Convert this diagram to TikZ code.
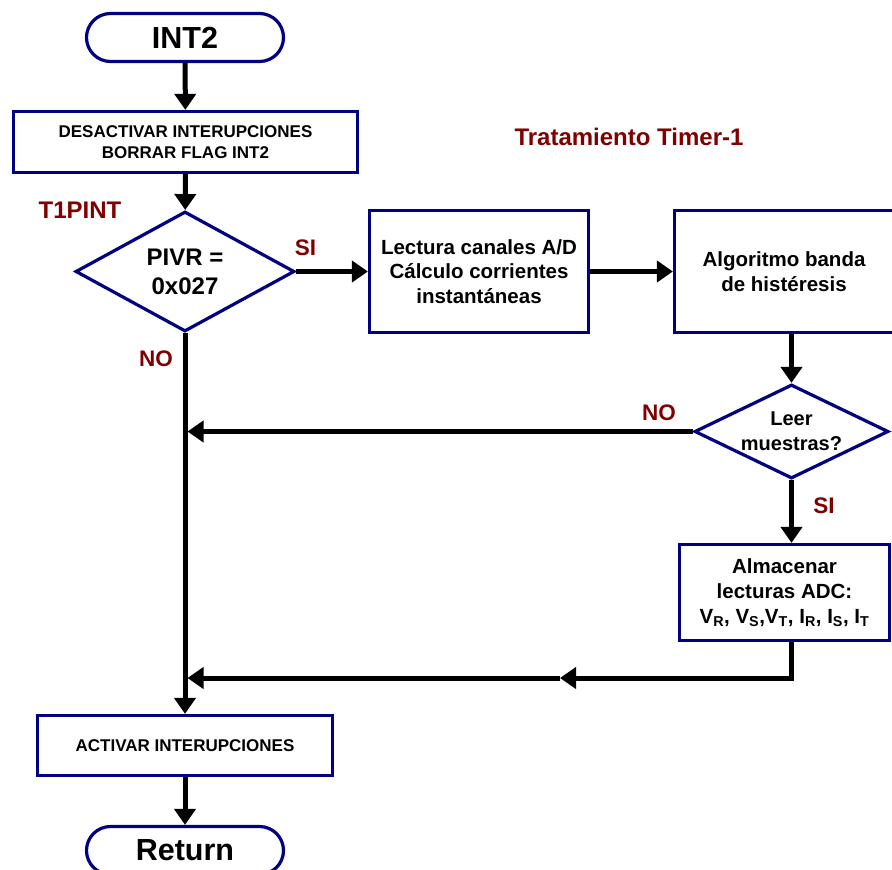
\documentclass[tikz,border=0pt]{standalone}
\usepackage{fontspec}
\setmainfont{Liberation Sans}
\usetikzlibrary{arrows.meta,shapes.geometric}
\definecolor{azul}{RGB}{0,0,128}
\definecolor{granate}{RGB}{128,0,0}

\begin{document}
\begin{tikzpicture}[x=1pt,y=-1pt,
    bloque/.style={draw=azul,line width=3.2pt,align=center,inner sep=0pt,
      font=\fontsize{20.5}{24.5}\selectfont\bfseries},
    chico/.style={font=\fontsize{17}{21}\selectfont\bfseries},
    terminal/.style={bloque,rounded corners=24pt,minimum width=197pt,minimum height=48pt,
      font=\fontsize{30.5}{36}\selectfont\bfseries},
    decision/.style={bloque,diamond,aspect=1.8},
    etiqueta/.style={text=granate,anchor=base,inner sep=0pt,
      font=\fontsize{22.5}{26}\selectfont\bfseries},
    flujo/.style={line width=5pt,-{Triangle[length=16pt,width=21pt]}}]
  \useasboundingbox (0,0) rectangle (892,870);

  % bloques
  \node[terminal] (int2) at (185,37.5) {INT2};
  \node[bloque,chico,minimum width=344pt,minimum height=61pt] (desact) at (185.5,142)
    {DESACTIVAR INTERUPCIONES\\BORRAR FLAG INT2};
  \node[decision,minimum width=219pt,minimum height=120pt,
    font=\fontsize{24}{29}\selectfont\bfseries] (pivr) at (185,271.5) {PIVR =\\0x027};
  \node[bloque,minimum width=219pt,minimum height=122pt] (lectura) at (479,271.5)
    {Lectura canales A/D\\Cálculo corrientes\\instantáneas};
  \node[bloque,minimum width=219pt,minimum height=122pt] (histeresis) at (784,271.5)
    {Algoritmo banda\\de histéresis};
  \node[decision,aspect=2,minimum width=194pt,minimum height=94pt,
    font=\fontsize{20}{25}\selectfont\bfseries] (leer) at (791.5,431.5) {Leer\\muestras?};
  \node[bloque,minimum width=210pt,minimum height=96pt,
    font=\fontsize{20.5}{25}\selectfont\bfseries] (almacenar) at (784.5,592.5)
    {Almacenar\\lecturas ADC:\\V\textsubscript{R}, V\textsubscript{S},V\textsubscript{T},
     I\textsubscript{R}, I\textsubscript{S}, I\textsubscript{T}};
  \node[bloque,chico,minimum width=295pt,minimum height=60pt] (activar) at (185,745.5)
    {ACTIVAR INTERUPCIONES};
  \node[terminal] (ret) at (185,850.5) {Return};

  % etiquetas
  \node[etiqueta,font=\fontsize{24}{28}\selectfont\bfseries] (titulo) at (629,145) {Tratamiento Timer-1};
  \node[etiqueta,font=\fontsize{24}{28}\selectfont\bfseries] (t1pint) at (80,218) {T1PINT};
  \node[etiqueta] (si1) at (305.5,255) {SI};
  \node[etiqueta] (no1) at (156,366) {NO};
  \node[etiqueta] (no2) at (659,420) {NO};
  \node[etiqueta] (si2) at (824,513) {SI};

  % uniones con la linea principal
  \coordinate (j1) at (187.5,431.5);
  \coordinate (j2) at (187.5,678);
  \coordinate (m) at (560,678);

  % flechas
  \draw[flujo] (int2) -- (desact);
  \draw[flujo] (desact) -- (pivr);
  \draw[flujo] (pivr) -- (lectura);
  \draw[flujo] (lectura) -- (histeresis);
  \draw[flujo] (histeresis.south -| leer.north) -- (leer);
  \draw[flujo] (leer) -- (j1);
  \draw[flujo] (leer.south) -- (leer.south |- almacenar.north);
  \draw[flujo] (almacenar.south -| leer.south) |- (m);
  \draw[flujo] (m) -- (j2);
  \draw[flujo] (pivr.south) -- (activar.north);
  \draw[flujo] (activar) -- (ret);
\end{tikzpicture}
\end{document}
